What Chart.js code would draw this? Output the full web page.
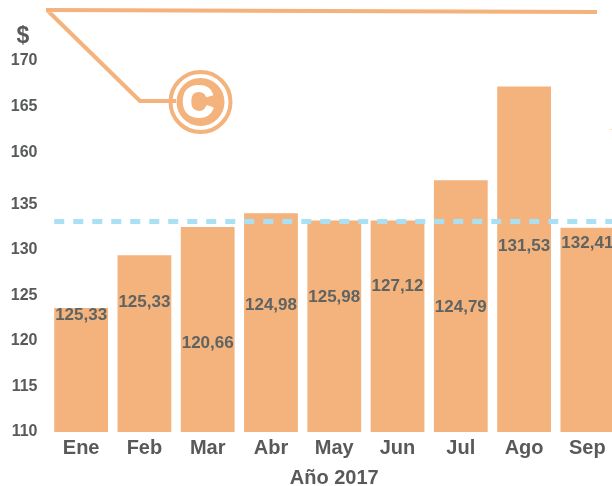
<!DOCTYPE html>
<html lang="es">
<head>
    <meta charset="UTF-8">
    <title>Año 2017</title>
    <script src="https://cdn.jsdelivr.net/npm/chart.js"></script>
    <style>
        html, body { margin: 0; padding: 0; background: #fff; overflow: hidden; }
        canvas { display: block; }
    </style>
</head>
<body>
    <canvas id="chart" width="629" height="486"></canvas>

    <script>
        // values
        const months = ['Ene', 'Feb', 'Mar', 'Abr', 'May', 'Jun', 'Jul', 'Ago', 'Sep'];
        const barHeights = [123.6, 129.4, 132.5, 134.0, 133.2, 133.2, 146.5, 167.2, 132.4];
        const printedValues = ['125,33', '125,33', '120,66', '124,98', '125,98', '127,12', '124,79', '131,53', '132,41'];
        const yTicks = [110, 115, 120, 125, 130, 135, 160, 165, 170];
        const reference = 133.1;

        // the y axis is cut between 135 and 160
        function cut(v) {
            if (v <= 135) return v;
            if (v <= 160) return 135 + (v - 135) / 25 * 5.7;
            return v - 160 + 140.7;
        }

        const orange = '#F4B27C';
        const grey = '#58595B';
        const font = '"Liberation Sans", Arial, sans-serif';

        // the printed numbers sit lower than the bar tops, by hand in the original
        const labelDrop = [7, 47, 116, 92, 77, 66, 127, 160, 15];

        const referenceLine = {
            id: 'referenceLine',
            afterDatasetsDraw(chart) {
                const ctx = chart.ctx;
                const y = chart.scales.y.getPixelForValue(cut(reference));
                const first = chart.getDatasetMeta(0).data[0];
                ctx.save();
                ctx.strokeStyle = '#A9E0F4';
                ctx.lineWidth = 5;
                ctx.setLineDash([10, 9]);
                ctx.beginPath();
                ctx.moveTo(first.x - first.width / 2, y);
                ctx.lineTo(chart.chartArea.right, y);
                ctx.stroke();
                ctx.restore();
            }
        };

        const printedLabels = {
            id: 'printedLabels',
            afterDatasetsDraw(chart) {
                const ctx = chart.ctx;
                const bars = chart.getDatasetMeta(0).data;
                ctx.save();
                ctx.font = 'bold 17px ' + font;
                ctx.fillStyle = '#5F6463';
                ctx.textAlign = 'center';
                ctx.textBaseline = 'middle';
                bars.forEach((bar, i) => {
                    ctx.fillText(printedValues[i], bar.x, bar.y + labelDrop[i]);
                });
                ctx.restore();
            }
        };

        // logo and the dollar sign over the axis
        const decoration = {
            id: 'decoration',
            afterDraw(chart) {
                const ctx = chart.ctx;
                ctx.save();
                ctx.strokeStyle = orange;
                ctx.fillStyle = orange;
                ctx.lineJoin = 'round';

                ctx.lineWidth = 4;
                ctx.beginPath();
                ctx.moveTo(46, 10);
                ctx.lineTo(597, 12);
                ctx.moveTo(48, 11);
                ctx.lineTo(140, 101);
                ctx.lineTo(176, 101);
                ctx.stroke();

                ctx.beginPath();
                ctx.arc(200.5, 102, 30, 0, Math.PI * 2);
                ctx.stroke();
                ctx.beginPath();
                ctx.arc(200.5, 102, 24, 0, Math.PI * 2);
                ctx.fill();

                ctx.fillStyle = '#fff';
                ctx.strokeStyle = '#fff';
                ctx.lineWidth = 2;
                ctx.font = 'bold 44px ' + font;
                ctx.textAlign = 'left';
                ctx.textBaseline = 'alphabetic';
                ctx.fillText('C', 182, 117);
                ctx.strokeText('C', 182, 117);

                ctx.fillStyle = '#F9DDBE';
                ctx.fillRect(610, 129, 2, 1);

                ctx.fillStyle = grey;
                ctx.font = 'bold 23px ' + font;
                ctx.textAlign = 'center';
                ctx.fillText('$', 23, 43);
                ctx.restore();
            }
        };

        new Chart(document.getElementById('chart'), {
            type: 'bar',
            data: {
                labels: months,
                datasets: [{
                    data: barHeights.map(cut),
                    backgroundColor: orange,
                    categoryPercentage: 1,
                    barPercentage: 0.85
                }]
            },
            options: {
                responsive: false,
                animation: false,
                layout: { padding: { top: 10, right: 10 } },
                plugins: {
                    legend: { display: false },
                    tooltip: { enabled: false }
                },
                scales: {
                    x: {
                        grid: { display: false },
                        border: { display: false },
                        ticks: {
                            color: grey,
                            font: { family: font, size: 20, weight: 'bold' },
                            padding: -4
                        },
                        title: {
                            display: true,
                            text: 'Año 2017',
                            color: grey,
                            font: { family: font, size: 20, weight: 'bold' },
                            padding: { top: 0, bottom: -4 }
                        },
                        afterFit(axis) { axis.height = 54; }
                    },
                    y: {
                        min: 110,
                        max: 155.9,
                        grid: { display: false },
                        border: { display: false },
                        afterBuildTicks(axis) {
                            axis.ticks = yTicks.map(t => ({ value: cut(t), label: String(t) }));
                        },
                        ticks: {
                            autoSkip: false,
                            color: grey,
                            font: { family: font, size: 16, weight: 'bold' },
                            padding: 4,
                            callback(value, index) { return String(yTicks[index]); }
                        },
                        afterFit(axis) { axis.width = 49.5; }
                    }
                }
            },
            plugins: [referenceLine, printedLabels, decoration]
        });
    </script>
</body>
</html>
